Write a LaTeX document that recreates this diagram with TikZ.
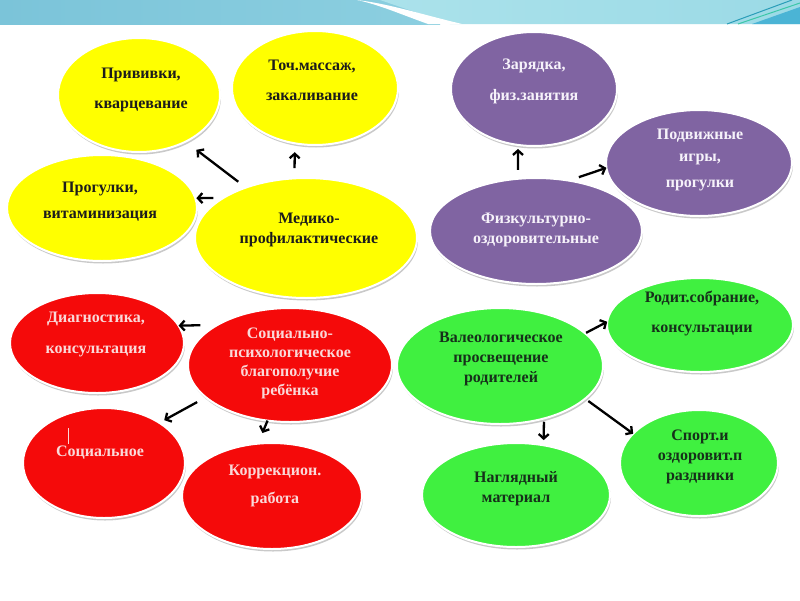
\documentclass[tikz,border=0pt]{standalone}
\usepackage{fontspec}
\setmainfont{Liberation Serif}
\usetikzlibrary{shapes.geometric,arrows.meta,shadows}
\definecolor{cyel}{HTML}{FFFF00}
\definecolor{cpur}{HTML}{8064A2}
\definecolor{cred}{HTML}{F50A0A}
\definecolor{cgrn}{HTML}{40F040}
\definecolor{tdark}{HTML}{1C1C1C}
\definecolor{tgdark}{HTML}{16301A}
\definecolor{tlight}{HTML}{F6F2FA}
\definecolor{tpink}{HTML}{FAD9D9}
\definecolor{bandA}{HTML}{7BC4D9}
\definecolor{bandB}{HTML}{8CCFE0}
\definecolor{bandC}{HTML}{ABE2EB}
\definecolor{bandD}{HTML}{9BDAE6}
\definecolor{bandE}{HTML}{4BB4D5}
\definecolor{lineA}{HTML}{2A9DB8}
\definecolor{lineB}{HTML}{3CC7A8}
\begin{document}
\begin{tikzpicture}[x=1pt,y=-1pt,
  blob/.style={ellipse, draw=white, line width=2pt, inner sep=0pt, outer sep=0pt,
    drop shadow={shadow xshift=1pt, shadow yshift=-2.5pt, fill=black!35, opacity=0.6}},
  yb/.style={blob, fill=cyel},
  pb/.style={blob, fill=cpur},
  rb/.style={blob, fill=cred},
  gb/.style={blob, fill=cgrn},
  lbl/.style={font=\bfseries\fontsize{16}{20}\selectfont, align=center, inner sep=0pt},
  dk/.style={lbl, text=tdark},
  gk/.style={lbl, text=tgdark},
  wt/.style={lbl, text=tlight},
  pk/.style={lbl, text=tpink},
  arr/.style={draw=black, line width=2.3pt, -{Straight Barb[length=4.5pt,width=10pt]}}
]
\useasboundingbox (0,0) rectangle (800,600);
\fill[white] (0,0) rectangle (800,600);
% banner
\shade[left color=bandA, right color=bandB] (0,0) rectangle (440,24);
\shade[left color=bandC, right color=bandD] (380,0) -- (800,0) -- (800,24) -- (450,24) -- cycle;
\fill[white] (357,0) .. controls (390,4) and (420,14) .. (462,24) -- (428,24) .. controls (400,14) and (380,5) .. (357,0) -- cycle;
\fill[bandE] (752,24) -- (800,7) -- (800,24) -- cycle;
\draw[lineA, line width=1pt] (727,24) -- (792,0);
\draw[lineB, line width=1pt] (738,24) -- (800,3);

% yellow group
\node[yb, minimum width=162pt, minimum height=114pt] (priv) at (139,95) {};
\node[yb, minimum width=166pt, minimum height=114pt] (toch) at (315,88) {};
\node[yb, minimum width=190pt, minimum height=106pt] (prog) at (102,208) {};
\node[yb, minimum width=222pt, minimum height=120pt] (med) at (306,238) {};
% purple group
\node[pb, minimum width=166pt, minimum height=114pt] (zar) at (534,89) {};
\node[pb, minimum width=186pt, minimum height=106pt] (podv) at (699,163) {};
\node[pb, minimum width=212pt, minimum height=106pt] (fiz) at (536,231) {};
% red group
\node[rb, minimum width=174pt, minimum height=100pt] (diag) at (97,343) {};
\node[rb, minimum width=204pt, minimum height=114pt] (soc) at (290,365) {};
\node[rb, minimum width=162pt, minimum height=110pt] (socn) at (104,463) {};
\node[rb, minimum width=180pt, minimum height=106pt] (korr) at (272,496) {};
% green group
\node[gb, minimum width=206pt, minimum height=116pt] (val) at (500,366) {};
\node[gb, minimum width=186pt, minimum height=94pt] (rod) at (700,325) {};
\node[gb, minimum width=188pt, minimum height=104pt] (nagl) at (516,495) {};
\node[gb, minimum width=158pt, minimum height=106pt] (sport) at (699,463) {};

% texts
\node[dk] (priv-t) at (141,89.5) {Прививки,\\[10pt]кварцевание};
\node[dk] (toch-t) at (312,80.5) {Точ.массаж,\\[10pt]закаливание};
\node[dk] (prog-t) at (100,201.5) {Прогулки,\\[6pt]витаминизация};
\node[dk] (med-t) at (309,229.5) {Медико-\\профилактические};
\node[wt] (zar-t) at (534,81) {Зарядка,\\[11pt]физ.занятия};
\node[wt] (podv-t) at (700,159.5) {Подвижные\\[2pt]игры,\\[6pt]прогулки};
\node[wt] (fiz-t) at (536,229.5) {Физкультурно-\\оздоровительные};
\node[pk] (diag-t) at (96,334) {Диагностика,\\[11pt]консультация};
\node[pk] (soc-t) at (290,363) {Социально-\\[-1pt]психологическое\\[-1pt]благополучие\\[-1pt]ребёнка};
\node[pk] (socn-t) at (100,453) {Социальное};
\node[pk] (korr-t) at (275,485.5) {Коррекцион.\\[8pt]работа};
\node[gk] (val-t) at (501,358.5) {Валеологическое\\просвещение\\родителей};
\node[gk] (rod-t) at (702,313.5) {Родит.собрание,\\[10pt]консультации};
\node[gk] (nagl-t) at (516,489) {Наглядный\\материал};
\node[gk] (sport-t) at (700,456.5) {Спорт.и\\оздоровит.п\\раздники};

% cursor mark
\draw[tpink, line width=0.6pt] (68,428) -- (68,444);

% arrows
\draw[arr, shorten <=9.6pt, shorten >=13.5pt] (med.140.8) -- (priv.-45.2);
\draw[arr, shorten <=10.3pt, shorten >=8.9pt] (med.101.4) -- (toch.-110.9);
\draw[arr, shorten <=10.3pt, shorten >=1pt] (med.154.2) -- (prog.6.1);
\draw[arr, shorten <=8.8pt, shorten >=4pt] (fiz.109) -- (zar.-106);
\draw[arr, shorten <=10.7pt] (fiz.57.8) -- (podv.-177.4);
\draw[arr, shorten <=17.3pt] (soc.151.2) -- (diag.12.5);
\draw[arr, shorten <=10pt, shorten >=5.6pt] (soc.-159.1) -- (socn.36.2);
\draw[arr, shorten >=11.5pt] (soc.-112.5) -- (korr.105.2);
\draw[arr, shorten <=1.1pt] (val.21.8) -- (rod.178.9);
\draw[arr, shorten <=3.3pt, shorten >=5.2pt] (val.-50.8) -- (nagl.61.5);
\draw[arr, shorten <=4pt] (val.-21.9) -- (sport.156.8);
\end{tikzpicture}
\end{document}
